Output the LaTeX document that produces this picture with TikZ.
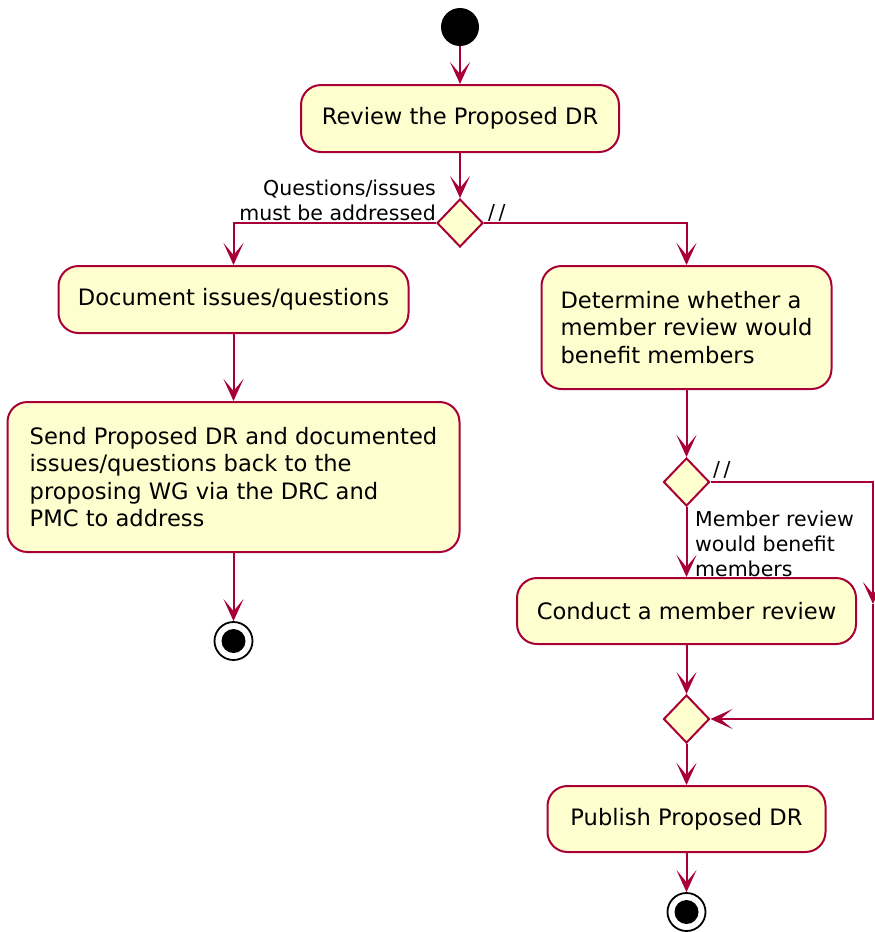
\documentclass[tikz,border=0pt]{standalone}
\usepackage{fontspec}
\setmainfont{DejaVu Sans}
\usetikzlibrary{shapes.geometric,arrows.meta}
\definecolor{umlborder}{HTML}{A80036}
\definecolor{umlfill}{HTML}{FEFECE}

\begin{document}
\begin{tikzpicture}[x=1pt,y=-1pt,
  action/.style={draw=umlborder, fill=umlfill, line width=2pt, rounded corners=20pt,
    inner sep=0pt, font=\fontsize{22.6}{27.5}\selectfont},
  branch/.style={diamond, draw=umlborder, fill=umlfill, line width=2pt,
    minimum width=46pt, minimum height=48pt, inner sep=0pt},
  startdot/.style={circle, fill=black, minimum size=38pt, inner sep=0pt},
  enddot/.style={circle, draw=black, line width=1.8pt, fill=white, minimum size=38pt, inner sep=0pt,
    path picture={\fill[black] (path picture bounding box.center) circle (12pt);}},
  flow/.style={draw=umlborder, line width=2pt,
    -{Stealth[length=22pt,width=20pt,inset=12pt]}},
  guard/.style={inner sep=0pt, font=\fontsize{20.5}{25}\selectfont}]

\useasboundingbox (0,0) rectangle (875,932);

% left and right column axes
\def\colL{233.5}
\def\colR{686.5}

% nodes
\node[startdot] (start) at (460,27) {};
\node[action, minimum width=318pt, minimum height=67pt] (review) at (460,118.5) {Review the Proposed DR};
\node[branch] (d1) at (460,223) {};
\node[action, minimum width=350pt, minimum height=67pt] (doc) at (\colL,299.5) {Document issues/questions};
\node[action, minimum width=452pt, minimum height=150pt, align=left] (send) at (\colL,477)
  {Send Proposed DR and documented\\issues/questions back to the\\proposing WG via the DRC and\\PMC to address};
\node[enddot] (end1) at (\colL,641) {};
\node[action, minimum width=290pt, minimum height=123pt, align=left] (det) at (\colR,327.5)
  {Determine whether a\\member review would\\benefit members};
\node[branch] (d2) at (\colR,482) {};
\node[action, minimum width=339pt, minimum height=66pt] (conduct) at (\colR,611) {Conduct a member review};
\node[branch] (d3) at (\colR,719) {};
\node[action, minimum width=278pt, minimum height=66pt] (publish) at (\colR,819) {Publish Proposed DR};
\node[enddot] (end2) at (\colR,912) {};

% loop corner points
\coordinate (c1) at (873,482);
\coordinate (cmid) at (873,604);
\coordinate (c2) at (873,719);

% guard labels
\node[guard, anchor=south east, align=right] (g1) at (436,221) {Questions/issues\\must be addressed};
\node[guard, anchor=south west] (g2) at (488,222) {/\,/};
\node[guard, anchor=south west] (g3) at (713,479) {/\,/};
\node[guard, anchor=north west, align=left] (g4) at (695,511) {Member review\\would benefit\\members};

% connectors
\draw[flow] (start) -- (review);
\draw[flow] (review) -- (d1);
\draw[flow] (d1.west) -| (doc.north);
\draw[flow] (d1.east) -| (det.north);
\draw[flow] (doc) -- (send);
\draw[flow] (send) -- (end1);
\draw[flow] (det) -- (d2);
\draw[flow] (d2) -- (conduct);
\draw[flow] (d2.east) -- (c1) -- (cmid);
\draw[flow] (cmid) -- (c2) -- (d3.east);
\draw[flow] (conduct) -- (d3);
\draw[flow] (d3) -- (publish);
\draw[flow] (publish) -- (end2);
\end{tikzpicture}
\end{document}
